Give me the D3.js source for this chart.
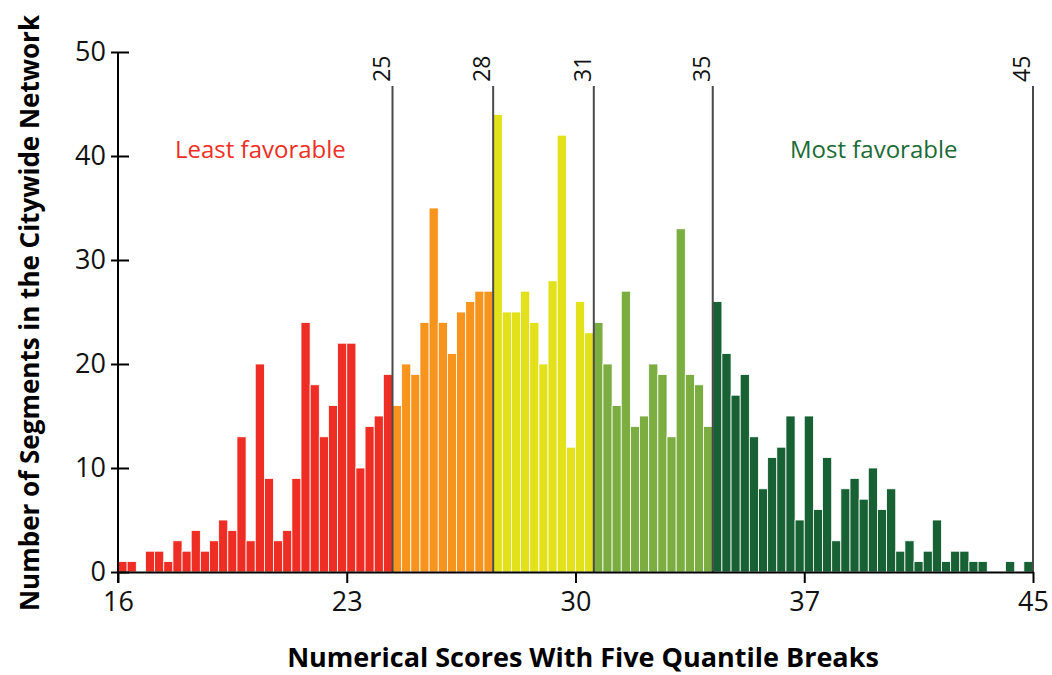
<!DOCTYPE html>
<html>
<head>
<meta charset="utf-8">
<script src="https://cdn.jsdelivr.net/npm/d3@7"></script>
<style>
  body { margin: 0; background: #fff; }
  svg { display: block; font-family: "Open Sans", sans-serif; }
</style>
</head>
<body>
<div id="chart"></div>
<script>
// number of segments in each score bin, left to right
const bin_counts = [
  1, 1, 0, 2, 2, 1, 3, 2, 4, 2,
  3, 5, 4, 13, 3, 20, 9, 3, 4, 9,
  24, 18, 13, 16, 22, 22, 10, 14, 15, 19,
  16, 20, 19, 24, 35, 24, 21, 25, 26, 27, 27,
  44, 25, 25, 27, 24, 20, 28, 42, 12, 26, 23,
  24, 20, 16, 27, 14, 15, 20, 19, 13, 33, 19, 18, 14,
  26, 21, 17, 19, 13, 8, 11, 12, 15, 5, 15, 6, 11, 3, 8, 9,
  7, 10, 6, 8, 2, 3, 1, 2, 5, 1, 2, 2, 1, 1, 0, 0, 1, 0, 1
]
const x_tick_bins = [0, 25, 50, 75, 100]
const x_tick_labels = ["16", "23", "30", "37", "45"]
const break_bins = [30, 41, 52, 65, 100]
const break_labels = ["25", "28", "31", "35", "45"]
const y_ticks = [0, 10, 20, 30, 40, 50]
const class_colors = ['#EE2E24', '#F7941D', '#E3E119', '#7BAD41', '#186134']
const class_labels = ["Least favorable", "Most favorable"]

const width = 1052
const height = 675
const left = 118
const right = 1033
const top_y = 52
const base_y = 572

var svg = d3.select("#chart")
  .append("svg")
  .attr("width", width)
  .attr("height", height)

var x_edge = d3.scaleLinear()
  .domain([0, bin_counts.length])
  .range([left, right])

var y_scale = d3.scaleLinear()
  .domain([0, 50])
  .range([base_y, top_y])

var bin_color = d3.scaleThreshold()
  .domain(break_bins.slice(0, 4))
  .range(class_colors)

// bars
svg.append("g")
  .selectAll("rect")
  .data(bin_counts.map((c, i) => ({ bin: i, count: c })).filter((d) => d.count > 0))
  .enter()
  .append("rect")
    .attr("x", (d) => x_edge(d.bin))
    .attr("width", (d) => x_edge(d.bin + 1) - x_edge(d.bin))
    .attr("y", (d) => y_scale(d.count))
    .attr("height", (d) => y_scale(0) - y_scale(d.count))
    .attr("fill", (d) => bin_color(d.bin))
    .attr("stroke", "#fff")
    .attr("stroke-width", 0.8)

// quantile break lines
var breaks = svg.append("g")
  .selectAll("g")
  .data(break_bins)
  .enter()
  .append("g")

breaks.append("line")
  .attr("x1", (d) => x_edge(d))
  .attr("x2", (d) => x_edge(d))
  .attr("y1", 86)
  .attr("y2", base_y)
  .attr("stroke", "#4a4a4a")
  .attr("stroke-width", 2)

breaks.append("text")
  .attr("transform", (d) => `translate(${x_edge(d) - 3},82) rotate(-90)`)
  .attr("font-size", 23)
  .attr("fill", "#111")
  .text((d, i) => break_labels[i])

// y axis
var y_axis = d3.axisLeft(y_scale)
  .tickValues(y_ticks)
  .tickSize(7)
  .tickPadding(5)

var y_g = svg.append("g")
  .attr("transform", `translate(${left},0)`)
  .call(y_axis)
y_g.select(".domain").remove()
y_g.selectAll(".tick line").attr("x1", 11).attr("stroke-width", 2)
y_g.selectAll(".tick text").attr("font-size", 27).attr("font-family", "Open Sans").attr("fill", "#111")
y_g.append("line")
  .attr("y1", y_scale(50))
  .attr("y2", base_y + 11)
  .attr("stroke", "#000")
  .attr("stroke-width", 2)

// x axis
var x_axis = d3.axisBottom(x_edge)
  .tickValues(x_tick_bins)
  .tickFormat((d, i) => x_tick_labels[i])
  .tickSize(11)
  .tickSizeOuter(0)
  .tickPadding(9)

var x_g = svg.append("g")
  .attr("transform", `translate(0,${base_y})`)
  .call(x_axis)
x_g.select(".domain").attr("stroke-width", 2)
x_g.selectAll(".tick line").attr("stroke-width", 2)
x_g.selectAll(".tick text").attr("font-size", 27).attr("font-family", "Open Sans").attr("fill", "#111")

// class labels
svg.append("text")
  .attr("x", 175)
  .attr("y", 158)
  .attr("font-size", 24)
  .attr("fill", class_colors[0])
  .text(class_labels[0])

svg.append("text")
  .attr("x", 790)
  .attr("y", 158)
  .attr("font-size", 24)
  .attr("fill", "#1C6B35")
  .text(class_labels[1])

// axis titles
svg.append("text")
  .attr("x", 583)
  .attr("y", 667)
  .attr("text-anchor", "middle")
  .attr("font-size", 27)
  .attr("font-weight", "bold")
  .text("Numerical Scores With Five Quantile Breaks")

svg.append("text")
  .attr("transform", "translate(39,313) rotate(-90)")
  .attr("text-anchor", "middle")
  .attr("font-size", 26)
  .attr("font-weight", "bold")
  .text("Number of Segments in the Citywide Network")
</script>
</body>
</html>
